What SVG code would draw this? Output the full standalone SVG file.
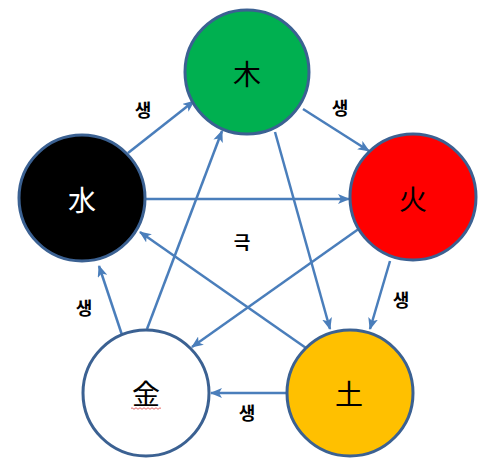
<svg xmlns="http://www.w3.org/2000/svg" width="490" height="472" viewBox="0 0 490 472">
<style>
.node{stroke:#3B6192;stroke-width:3}
.lbl{font-family:"Noto Sans CJK KR","Noto Sans CJK SC",sans-serif;font-size:28px;text-anchor:middle;dominant-baseline:central}
.edge{stroke:#4A7EBB;stroke-width:2.5;fill:none;marker-end:url(#ah)}
.el{font-family:"Noto Sans CJK KR",sans-serif;font-size:18px;font-weight:bold;text-anchor:middle;dominant-baseline:central;fill:#000}
</style>
<defs>
<marker id="ah" markerUnits="userSpaceOnUse" markerWidth="12" markerHeight="10" refX="11" refY="5" orient="auto">
<path d="M0,0 L12,5 L0,10 L3,5 Z" fill="#4A7EBB"/>
</marker>
</defs>
<rect width="490" height="472" fill="#fff"/>
<g id="connectors">
<line class="edge" x1="128" y1="153" x2="194" y2="101"/>
<line class="edge" x1="303" y1="109" x2="369" y2="151"/>
<line class="edge" x1="390" y1="261" x2="370" y2="329"/>
<line class="edge" x1="286" y1="393" x2="211" y2="393"/>
<line class="edge" x1="122" y1="335" x2="99" y2="266"/>
<line class="edge" x1="146" y1="199" x2="349" y2="199"/>
<line class="edge" x1="275" y1="132" x2="330" y2="329"/>
<line class="edge" x1="360" y1="228" x2="192" y2="347"/>
<line class="edge" x1="306" y1="348" x2="140" y2="232"/>
<line class="edge" x1="147" y1="329" x2="222" y2="131"/>
</g>
<g id="labels">
<text class="el" x="143" y="109">생</text>
<text class="el" x="340" y="107">생</text>
<text class="el" x="401" y="299">생</text>
<text class="el" x="84" y="307">생</text>
<text class="el" x="247" y="412">생</text>
<text class="el" x="242" y="241">극</text>
</g>
<g id="wood"><circle class="node" cx="247" cy="72" r="62" fill="#00B050"/><text class="lbl" x="247" y="73">木</text></g>
<g id="water"><circle class="node" cx="82" cy="198" r="63" fill="#000"/><text class="lbl" x="82" y="199" fill="#fff">水</text></g>
<g id="fire"><circle class="node" cx="413" cy="197" r="63" fill="#FF0000"/><text class="lbl" x="413" y="198">火</text></g>
<g id="metal"><circle class="node" cx="146" cy="393" r="63" fill="#fff"/><text class="lbl" x="146" y="393">金</text>
<path d="M131,408.5 q1,-1.5 2,0 t2,0 t2,0 t2,0 t2,0 t2,0 t2,0 t2,0 t2,0 t2,0 t2,0 t2,0 t2,0 t2,0 t2,0" stroke="#E04040" stroke-width="0.8" fill="none"/></g>
<g id="earth"><circle class="node" cx="350" cy="393" r="63" fill="#FFC000"/><text class="lbl" x="349" y="393">土</text></g>
</svg>
